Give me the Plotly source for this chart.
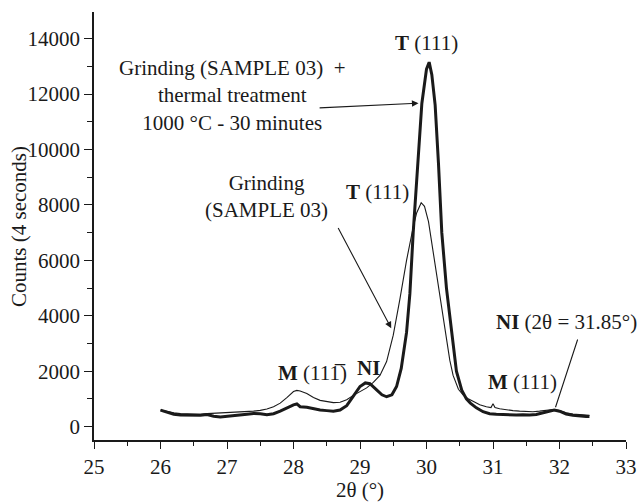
import plotly.graph_objects as go

# 2-theta values (degrees) and counts
grind_x = [26.00, 26.10, 26.20, 26.30, 26.40, 26.50, 26.60, 26.70, 26.80, 26.90,
           27.00, 27.10, 27.20, 27.30, 27.40, 27.50, 27.60, 27.70, 27.80, 27.90,
           28.00, 28.05, 28.10, 28.20, 28.30, 28.40, 28.50, 28.60, 28.70, 28.80,
           28.90, 29.00, 29.10, 29.20, 29.30, 29.40, 29.50, 29.60, 29.70, 29.80,
           29.85, 29.92, 29.97, 30.03, 30.10, 30.15, 30.20, 30.27, 30.35, 30.40,
           30.48, 30.55, 30.62, 30.70, 30.80, 30.90, 30.97, 31.00, 31.03, 31.10,
           31.20, 31.30, 31.40, 31.50, 31.60, 31.70, 31.80, 31.90, 32.00, 32.10,
           32.20, 32.30, 32.40, 32.45]
grind_y = [600, 540, 500, 470, 460, 455, 450, 470, 480, 500,
           510, 510, 530, 540, 560, 590, 640, 720, 850, 1050,
           1270, 1310, 1290, 1200, 1050, 950, 900, 870, 880, 970,
           1130, 1270, 1400, 1600, 1850, 2350, 3300, 4600, 6000, 7200,
           7700, 8080, 7950, 7400, 6300, 5500, 4600, 3500, 2400, 1850,
           1350, 1150, 1020, 920, 790, 720, 690, 830, 690, 650,
           610, 580, 560, 550, 540, 560, 580, 620, 580, 500,
           460, 440, 420, 410]

therm_x = [26.00, 26.10, 26.20, 26.30, 26.40, 26.50, 26.60, 26.70, 26.80, 26.90,
           27.00, 27.10, 27.20, 27.30, 27.40, 27.50, 27.60, 27.70, 27.80, 27.90,
           28.00, 28.05, 28.10, 28.20, 28.30, 28.40, 28.50, 28.60, 28.70, 28.80,
           28.90, 29.00, 29.08, 29.15, 29.25, 29.33, 29.40, 29.48, 29.55, 29.62,
           29.70, 29.75, 29.80, 29.86, 29.93, 30.00, 30.04, 30.08, 30.13, 30.18,
           30.23, 30.30, 30.38, 30.45, 30.53, 30.60, 30.66, 30.75, 30.85, 30.95,
           31.05, 31.15, 31.25, 31.35, 31.45, 31.55, 31.65, 31.75, 31.85, 31.92,
           32.00, 32.10, 32.20, 32.30, 32.40, 32.45]
therm_y = [600, 520, 450, 420, 410, 400, 410, 440, 380, 350,
           370, 390, 410, 450, 480, 470, 430, 470, 560, 680,
           790, 820, 720, 700, 640, 600, 580, 560, 600, 760,
           1100, 1450, 1580, 1550, 1330, 1150, 1080, 1150, 1450, 2100,
           3400, 4800, 7000, 9300, 11660, 12900, 13150, 12700, 11600, 9500,
           7000, 5000, 3500, 2000, 1320, 1000, 850, 680, 540, 470,
           450, 440, 410, 420, 430, 420, 440, 500, 560, 600,
           560, 460, 410, 380, 370, 370]

x_ticks = [25, 26, 27, 28, 29, 30, 31, 32, 33]
y_ticks = [0, 2000, 4000, 6000, 8000, 10000, 12000, 14000]

FONT = "Liberation Serif"
FS = 21
INK = "#1a1a1a"

fig = go.Figure()
fig.add_trace(go.Scatter(x=grind_x, y=grind_y, mode="lines",
                         line=dict(color=INK, width=1.1), showlegend=False))
fig.add_trace(go.Scatter(x=therm_x, y=therm_y, mode="lines",
                         line=dict(color=INK, width=3), showlegend=False))

ann = [
    dict(x=30.0, y=13850, text="<b>T</b> (111)", showarrow=False),
    dict(x=27.085, y=11950, text="Grinding (SAMPLE 03)  +<br>thermal treatment<br>1000 °C - 30 minutes",
         showarrow=False),
    dict(x=27.6, y=8300, text="Grinding<br>(SAMPLE 03)", showarrow=False),
    dict(x=29.27, y=8470, text="<b>T</b> (111)", showarrow=False),
    dict(x=28.28, y=1930, text="<b>M</b> (11\u0031\u0305)", showarrow=False),
    dict(x=29.13, y=2110, text="<b>NI</b>", showarrow=False),
    dict(x=31.44, y=1610, text="<b>M</b> (111)", showarrow=False),
    dict(x=32.11, y=3780, text="<b>NI</b> (2θ = 31.85°)", showarrow=False),
    # y-axis title
    dict(x=-0.141, y=0.5, xref="paper", yref="paper", text="Counts (4 seconds)",
         textangle=-90, showarrow=False, xanchor="center", yanchor="middle"),
    # arrows
    dict(x=29.88, y=11670, ax=28.37, ay=11500, axref="x", ayref="y", text="",
         showarrow=True, arrowhead=2, arrowsize=1.2, arrowwidth=1.1, arrowcolor=INK, standoff=0),
    dict(x=29.47, y=3550, ax=28.66, ay=7220, axref="x", ayref="y", text="",
         showarrow=True, arrowhead=2, arrowsize=1.2, arrowwidth=1.1, arrowcolor=INK, standoff=0),
    dict(x=31.94, y=700, ax=32.28, ay=3200, axref="x", ayref="y", text="",
         showarrow=True, arrowhead=0, arrowwidth=1.1, arrowcolor=INK, standoff=0),
]
for a in ann:
    a.setdefault("xref", "x")
    a.setdefault("yref", "y")
    a["font"] = dict(family=FONT, size=FS, color=INK)
    fig.add_annotation(**a)

axis_common = dict(showgrid=False, zeroline=False, showline=True, linecolor=INK,
                   linewidth=1.5, ticks="outside", tickcolor=INK, tickwidth=1.3,
                   tickfont=dict(family=FONT, size=FS, color=INK), mirror=False,
                   automargin=False)

fig.update_xaxes(range=[25, 33], tickvals=x_ticks, ticklen=7,
                 minor=dict(dtick=0.5, ticks="outside", ticklen=4, tickcolor=INK, tickwidth=1.2),
                 title=dict(text="2θ (°)", font=dict(family=FONT, size=FS, color=INK), standoff=8),
                 **axis_common)
fig.update_yaxes(range=[-480, 14960], tickvals=y_ticks, tickformat="d", ticklen=8,
                 minor=dict(dtick=1000, ticks="outside", ticklen=5, tickcolor=INK, tickwidth=1.2),
                 **axis_common)

fig.update_layout(width=640, height=502, margin=dict(l=94, r=14, t=12, b=62),
                  plot_bgcolor="white", paper_bgcolor="white")

fig.write_html("out.html", config={"displayModeBar": False},
               post_script="document.body.style.margin='0';document.body.style.overflow='hidden';")
